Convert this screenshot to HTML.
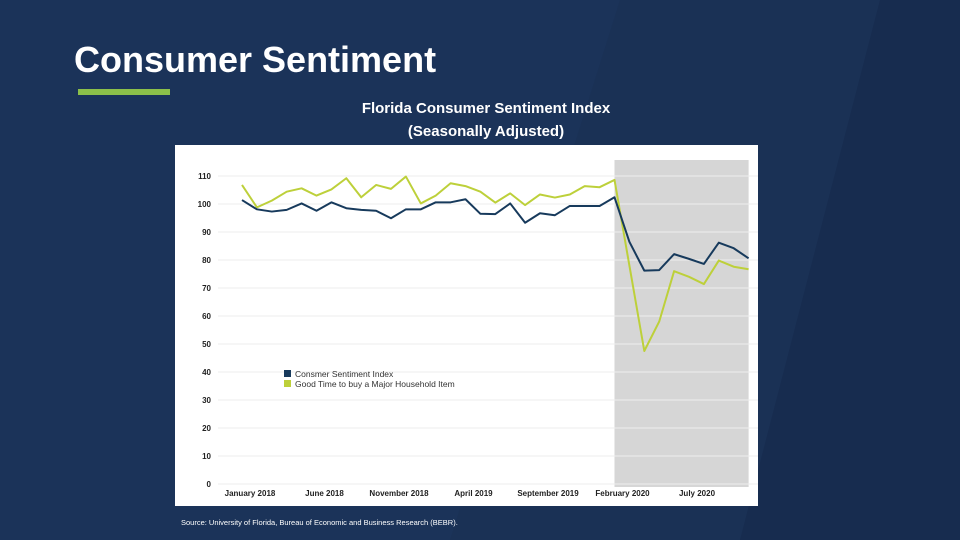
<!DOCTYPE html>
<html><head><meta charset="utf-8"><style>
html,body{margin:0;width:960px;height:540px;overflow:hidden;background:#1b3359;font-family:"Liberation Sans",sans-serif;}
svg{display:block;}
</style></head><body>
<svg width="960" height="540" viewBox="0 0 960 540" xmlns="http://www.w3.org/2000/svg">
<rect x="0" y="0" width="960" height="540" fill="#1b3359"/>
<polygon points="620,0 960,0 960,540 450,540" fill="#1a3155"/>
<polygon points="880,0 960,0 960,540 740,540" fill="#172c4f"/>
<text x="74" y="72" fill="#fff" font-size="36" font-weight="bold" font-family="Liberation Sans, sans-serif">Consumer Sentiment</text>
<rect x="78" y="89" width="92" height="6" fill="#8cc04a"/>
<text x="486" y="113" fill="#fff" font-size="15" font-weight="bold" text-anchor="middle">Florida Consumer Sentiment Index</text>
<text x="486" y="136" fill="#fff" font-size="15" font-weight="bold" text-anchor="middle">(Seasonally Adjusted)</text>
<rect x="175" y="145" width="583" height="361" fill="#fff"/>
<g id="chart"></g>
<text x="181" y="525" fill="#fff" font-size="7.5">Source: University of Florida, Bureau of Economic and Business Research (BEBR).</text>
</svg>
<script>
const yTicks=[0,10,20,30,40,50,60,70,80,90,100,110];
const xLabels=["January 2018","June 2018","November 2018","April 2019","September 2019","February 2020","July 2020"];
const xLabelIdx=[0,5,10,15,20,25,30];
const sentiment=[101.4,98.1,97.3,97.9,100.2,97.6,100.6,98.5,97.9,97.6,94.9,98.1,98.1,100.6,100.6,101.7,96.5,96.4,100.2,93.3,96.7,96,99.3,99.3,99.3,102.4,86.5,76.2,76.4,82.1,80.4,78.6,86.2,84.2,80.6];
const householdItem=[106.8,98.8,101.2,104.4,105.6,103,105.2,109.2,102.4,106.8,105.4,109.8,100.2,103,107.4,106.4,104.4,100.5,103.8,99.6,103.4,102.3,103.4,106.4,106,108.6,78,47.5,58,76,74,71.4,79.8,77.6,76.7];
const shadeStart=25, shadeEnd=34;
const NS="http://www.w3.org/2000/svg";
const g=document.getElementById('chart');
const X=i=>242+i*14.9;
const Y=v=>484-v*2.8;
function mk(t,a){const e=document.createElementNS(NS,t);for(const k in a)e.setAttribute(k,a[k]);g.appendChild(e);return e;}
let r=mk('rect',{x:X(shadeStart),y:160,width:X(shadeEnd)-X(shadeStart),height:327,fill:'#d6d6d6'});


yTicks.forEach(v=>{
 let l=mk('line',{x1:218,x2:758,y1:Y(v),y2:Y(v),stroke:'#eeeeee','stroke-width':1});
 
 
 let t=mk('text',{x:211,y:Y(v)+3,'text-anchor':'end','font-size':8,'font-weight':'bold',fill:'#222'});
 t.textContent=v;
 
 
});
xLabels.forEach((s,k)=>{
 let t=mk('text',{x:X(xLabelIdx[k])+8,y:496,'text-anchor':'middle','font-size':8,'font-weight':'bold',fill:'#222'});
 t.textContent=s;
 
 
});
function line(arr,col,name){
 let p=mk('polyline',{points:arr.map((v,i)=>X(i)+','+Y(v)).join(' '),fill:'none',stroke:col,'stroke-width':2,'stroke-linejoin':'round'});
 
 
}
line(householdItem,'#bdd03a','household-item-line');
line(sentiment,'#173a5c','sentiment-line');
[['Consmer Sentiment Index','#173a5c',376],['Good Time to buy a Major Household Item','#bdd03a',386]].forEach(([s,c,y])=>{
 let b=mk('rect',{x:284,y:y-6,width:7,height:7,fill:c});
 
 
 let t=mk('text',{x:295,y:y+1,'font-size':8.5,fill:'#333'});
 t.textContent=s;
 
 
});
</script>
</body></html>
